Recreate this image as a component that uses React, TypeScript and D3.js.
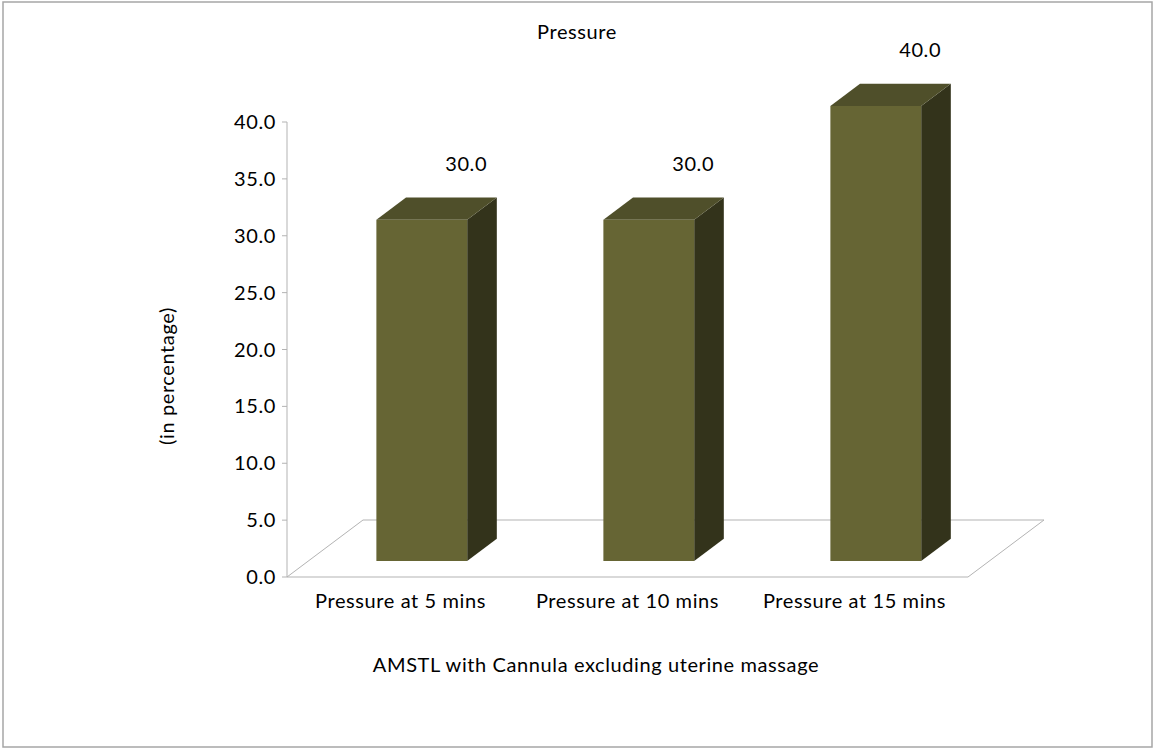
import React from "react";
import * as d3 from "d3";

// Chart data
const categories = ["Pressure at 5 mins", "Pressure at 10 mins", "Pressure at 15 mins"];
const values = [30.0, 30.0, 40.0];
const yTicks = [0, 5, 10, 15, 20, 25, 30, 35, 40];
const chartTitle = "Pressure";
const yTitle = "(in percentage)";
const xTitle = "AMSTL with Cannula excluding uterine massage";

const W = 1154;
const H = 749;
const FONT = "Lato, 'Open Sans', sans-serif";
const FS = 20;
const LS = 0.6;

export default function App() {
  const plotLeft = 287;
  const plotRight = 968;
  const plotBottom = 577;
  const plotTop = 122;

  // full floor depth (oblique projection)
  const depthX = 76;
  const depthY = -57;
  const frontFrac = 0.28;
  const backFrac = 0.67;

  const y = d3.scaleLinear().domain([0, 40]).range([plotBottom, plotTop]);
  const x = d3
    .scaleBand<string>()
    .domain(categories)
    .range([plotLeft, plotRight])
    .paddingInner(0.6)
    .paddingOuter(0.3);

  const fdx = depthX * frontFrac;
  const fdy = depthY * frontFrac;
  const bdx = depthX * backFrac;
  const bdy = depthY * backFrac;
  const sideX = bdx - fdx;
  const sideY = bdy - fdy;

  const floor = [
    [plotLeft, plotBottom],
    [plotRight, plotBottom],
    [plotRight + depthX, plotBottom + depthY],
    [plotLeft + depthX, plotBottom + depthY],
  ];
  const line = d3.line();

  const textProps = { fontSize: FS, fill: "#000", letterSpacing: LS };

  return (
    <svg
      width={W}
      height={H}
      style={{ position: "absolute", left: 0, top: 0, background: "#fff" }}
      fontFamily={FONT}
    >
      <rect x={3} y={2} width={1149} height={745} fill="#fff" stroke="#a6a6a6" strokeWidth={1.5} />

      {/* floor */}
      <path d={line(floor as [number, number][]) + "Z"} fill="none" stroke="#b3b3b3" strokeWidth={1} />

      {/* y axis */}
      <line x1={plotLeft} x2={plotLeft} y1={plotTop} y2={plotBottom} stroke="#b3b3b3" strokeWidth={1} />
      {yTicks.map((t) => (
        <g key={t}>
          <line x1={plotLeft - 5} x2={plotLeft} y1={y(t)} y2={y(t)} stroke="#b3b3b3" />
          <text x={plotLeft - 11} y={y(t)} dy="0.35em" textAnchor="end" {...textProps}>
            {t.toFixed(1)}
          </text>
        </g>
      ))}

      {/* bars */}
      {categories.map((c, i) => {
        const v = values[i];
        const x0 = (x(c) as number) + fdx;
        const x1 = x0 + x.bandwidth();
        const base = plotBottom + fdy;
        const top = base - (plotBottom - y(v));
        const frontPts: [number, number][] = [
          [x0, base],
          [x1, base],
          [x1, top],
          [x0, top],
        ];
        const topPts: [number, number][] = [
          [x0, top],
          [x1, top],
          [x1 + sideX, top + sideY],
          [x0 + sideX, top + sideY],
        ];
        const sidePts: [number, number][] = [
          [x1, base],
          [x1 + sideX, base + sideY],
          [x1 + sideX, top + sideY],
          [x1, top],
        ];
        return (
          <g key={c}>
            <path d={line(sidePts) + "Z"} fill="#33331b" />
            <path d={line(topPts) + "Z"} fill="#4f4f2a" />
            <path d={line(frontPts) + "Z"} fill="#666534" />
            <text x={x1 - 1} y={top + sideY - 34} dy="0.35em" textAnchor="middle" {...textProps}>
              {v.toFixed(1)}
            </text>
          </g>
        );
      })}

      {/* category labels */}
      {categories.map((c) => (
        <text
          key={c}
          x={(x(c) as number) + x.bandwidth() / 2}
          y={601}
          dy="0.35em"
          textAnchor="middle"
          {...textProps}
        >
          {c}
        </text>
      ))}

      <text x={577} y={32} dy="0.35em" textAnchor="middle" {...textProps}>
        {chartTitle}
      </text>
      <text transform={`translate(167,376) rotate(-90)`} dy="0.35em" textAnchor="middle" {...textProps}>
        {yTitle}
      </text>
      <text x={596} y={665} dy="0.35em" textAnchor="middle" {...textProps}>
        {xTitle}
      </text>
    </svg>
  );
}
